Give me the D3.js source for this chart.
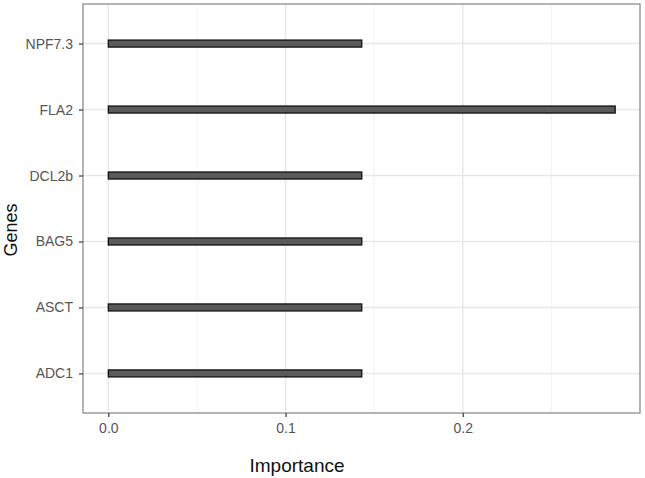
<!DOCTYPE html>
<html>
<head>
<meta charset="utf-8">
<script src="https://cdn.jsdelivr.net/npm/d3@7"></script>
<style>
  body { margin: 0; background: #fff; }
  text { font-family: "Liberation Sans", Arial, sans-serif; }
</style>
</head>
<body>
<div id="canvas"></div>
<script>
const genes = ["NPF7.3", "FLA2", "DCL2b", "BAG5", "ASCT", "ADC1"];
const importance = [0.143, 0.286, 0.143, 0.143, 0.143, 0.143];
const xTicks = [0, 0.1, 0.2];
const xMinor = [0.05, 0.15, 0.25];

const canvas = d3.select("#canvas");

const width = 645;
const height = 478;
const panel = { left: 83, top: 4, right: 640, bottom: 413 };

const svg = canvas.append("svg")
  .attr("width", width)
  .attr("height", height);

const x = d3.scaleLinear()
  .domain([-0.0143, 0.3])
  .range([panel.left, panel.right]);

const y = d3.scalePoint()
  .domain(genes)
  .range([panel.top, panel.bottom])
  .padding(0.6);

// grid
const grid = svg.append("g");
grid.selectAll(".minor")
  .data(xMinor)
  .enter()
  .append("line")
  .attr("x1", (d) => x(d)).attr("x2", (d) => x(d))
  .attr("y1", panel.top).attr("y2", panel.bottom)
  .attr("stroke", "#f3f3f3")
  .attr("stroke-width", 1);
grid.selectAll(".major")
  .data(xTicks)
  .enter()
  .append("line")
  .attr("x1", (d) => x(d)).attr("x2", (d) => x(d))
  .attr("y1", panel.top).attr("y2", panel.bottom)
  .attr("stroke", "#e8e8e8")
  .attr("stroke-width", 1.5);
grid.selectAll(".hmajor")
  .data(genes)
  .enter()
  .append("line")
  .attr("x1", panel.left).attr("x2", panel.right)
  .attr("y1", (d) => y(d)).attr("y2", (d) => y(d))
  .attr("stroke", "#e8e8e8")
  .attr("stroke-width", 1.5);

// bars
const barH = 7;
svg.selectAll("rect.bar")
  .data(genes)
  .enter()
  .append("rect")
  .attr("class", "bar")
  .attr("x", x(0))
  .attr("y", (d) => y(d) - barH / 2)
  .attr("width", (d, i) => x(importance[i]) - x(0))
  .attr("height", barH)
  .attr("fill", "#5a5a5a")
  .attr("stroke", "#111")
  .attr("stroke-width", 1.3);

// panel border
svg.append("rect")
  .attr("x", panel.left)
  .attr("y", panel.top)
  .attr("width", panel.right - panel.left)
  .attr("height", panel.bottom - panel.top)
  .attr("fill", "none")
  .attr("stroke", "#8c8c8c")
  .attr("stroke-width", 1.3);

// axes
const xAxis = svg.append("g")
  .attr("transform", `translate(0,${panel.bottom})`)
  .call(d3.axisBottom(x).tickValues(xTicks).tickFormat(d3.format(".1f")).tickSize(4).tickPadding(6));
const yAxis = svg.append("g")
  .attr("transform", `translate(${panel.left},0)`)
  .call(d3.axisLeft(y).tickSize(4).tickPadding(6));

[xAxis, yAxis].forEach((a) => {
  a.select(".domain").remove();
  a.selectAll(".tick line").attr("stroke", "#444").attr("stroke-width", 1.3);
  a.selectAll(".tick text")
    .attr("fill", "#555")
    .style("font-size", "14px")
    .style("font-family", "'Liberation Sans', Arial, sans-serif");
});

// titles
svg.append("text")
  .attr("x", 297)
  .attr("y", 472)
  .attr("text-anchor", "middle")
  .style("font-size", "19px")
  .attr("fill", "#111")
  .text("Importance");

svg.append("text")
  .attr("transform", "translate(17,230) rotate(-90)")
  .attr("text-anchor", "middle")
  .style("font-size", "18px")
  .attr("fill", "#111")
  .text("Genes");
</script>
</body>
</html>
